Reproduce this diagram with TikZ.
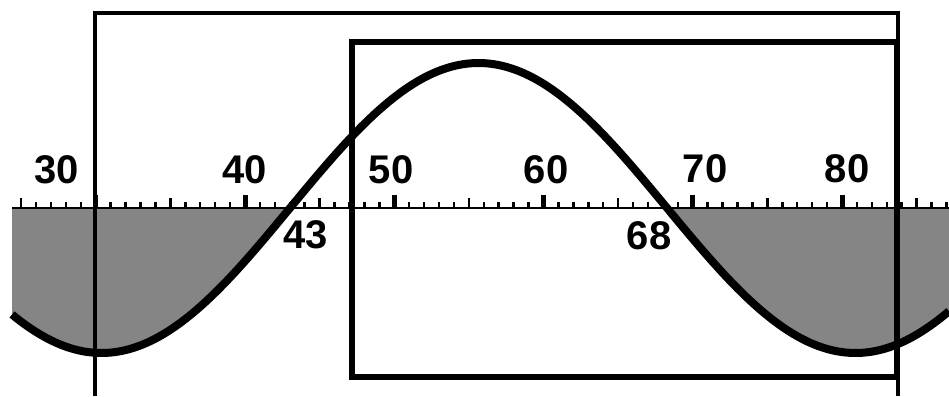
\documentclass[tikz,border=0pt]{standalone}
\usepackage{fontspec}
\setmainfont{Liberation Sans}
\tikzset{
  lbl/.style={inner sep=0pt, font=\bfseries\fontsize{40}{40}\selectfont},
  thinframe/.style={line width=4pt},
  thickframe/.style={line width=6pt},
  wave/.style={line width=8pt, line join=round},
  shade/.style={fill=black!48},
  axisline/.style={line width=2.5pt},
  minortick/.style={line width=2.5pt},
  majortick/.style={line width=5pt},
}
\begin{document}
\begin{tikzpicture}[x=1pt,y=-1pt]
\useasboundingbox (0,0) rectangle (949,396);
% shaded regions
\fill[shade] (12,209) -- plot[domain=12:290,samples=120] (\x,{208-145*sin(0.47745*(\x-290))}) -- cycle;
\fill[shade] (667,209) -- plot[domain=667:949,samples=120] (\x,{208-145*sin(0.47745*(\x-290))}) -- (949,209) -- cycle;
% axis
\coordinate (axL) at (12,208);
\coordinate (axR) at (949,208);
\draw[axisline] (axL) -- (axR);
% ticks
\foreach \u in {25,...,87}{
  \pgfmathsetmacro{\tx}{245+(\u-40)*14.925}
  \pgfmathtruncatemacro{\mten}{mod(\u,10)}
  \pgfmathtruncatemacro{\mfive}{mod(\u,5)}
  \ifnum\mten=0
    \draw[majortick] (\tx,208) -- (\tx,195);
  \else\ifnum\mfive=0
    \draw[minortick] (\tx,208) -- (\tx,198);
  \else
    \draw[minortick] (\tx,208) -- (\tx,202);
  \fi\fi
}
% outer thin frame
\coordinate (o1) at (95,396);
\coordinate (o2) at (95,13);
\coordinate (o3) at (898,13);
\coordinate (o4) at (898,396);
\draw[thinframe] (o1) -- (o2) -- (o3) -- (o4);
% thick inner frame
\coordinate (i1) at (352,42);
\coordinate (i2) at (897,377);
\draw[thickframe] (i1) rectangle (i2);
% sine wave
\draw[wave] plot[domain=12:949,samples=240] (\x,{208-145*sin(0.47745*(\x-290))});
% labels
\node[lbl] (l30) at (57,170) {30};
\node[lbl] (l40) at (245,170) {40};
\node[lbl] (l50) at (391,170) {50};
\node[lbl] (l60) at (546,170) {60};
\node[lbl] (l70) at (705,169) {70};
\node[lbl] (l80) at (847,169) {80};
\node[lbl] (l43) at (306,235) {43};
\node[lbl] (l68) at (649,236) {68};
\end{tikzpicture}
\end{document}
